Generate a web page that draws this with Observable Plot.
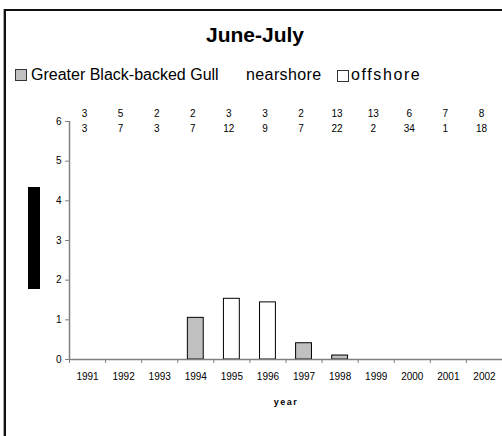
<!DOCTYPE html>
<html>
<head>
<meta charset="utf-8">
<script src="https://cdn.jsdelivr.net/npm/d3@7"></script>
<script src="https://cdn.jsdelivr.net/npm/@observablehq/plot@0.6"></script>
<style>
  html, body { margin: 0; padding: 0; background: #fff; overflow: hidden; }
  body { width: 502px; height: 436px; position: relative; font-family: "Liberation Sans", Arial, sans-serif; }
  #hline { position: absolute; left: 4px; top: 9px; width: 498px; height: 2px; background: #111; }
  #vline { position: absolute; left: 4px; top: 9px; width: 2px; height: 427px; background: #111; box-shadow: -1px 0 0 #aaa; }
  #chart { position: absolute; left: 0; top: 0; }
  .abs { position: absolute; white-space: pre; color: #000; }
  #title { left: 0; width: 510px; top: 23px; text-align: center; font-size: 21px; font-weight: bold; }
  .leg { font-size: 16px; top: 66px; }
  .sw { position: absolute; width: 10px; height: 10px; border: 1px solid #333; }
  #ylab { position: absolute; left: 28px; top: 187px; width: 12px; height: 102px; background: #000; }
</style>
</head>
<body>
<div id="hline"></div>
<div id="vline"></div>
<div id="chart"></div>
<div id="title" class="abs">June-July</div>
<div class="sw" style="left:15px; top:69px; background:#c0c0c0;"></div>
<div class="abs leg" style="left:31px;">Greater Black-backed Gull</div>
<div class="abs leg" style="left:246px; letter-spacing:0.4px;">nearshore</div>
<div class="sw" style="left:337px; top:70px; background:#fff;"></div>
<div class="abs leg" style="left:351px; letter-spacing:1.6px;">offshore</div>
<div id="ylab"></div>
<script>
const years = [1991, 1992, 1993, 1994, 1995, 1996, 1997, 1998, 1999, 2000, 2001, 2002];
const nearshore = [0, 0, 0, 1.05, 0, 0, 0.41, 0.1, 0, 0, 0, 0];
const offshore  = [0, 0, 0, 0, 1.53, 1.44, 0, 0, 0, 0, 0, 0];
const countsTop    = [3, 5, 2, 2, 3, 3, 2, 13, 13, 6, 7, 8];
const countsBottom = [3, 7, 3, 7, 12, 9, 7, 22, 2, 34, 1, 18];
const yTicks = [0, 1, 2, 3, 4, 5, 6];
const xTitle = "year";

const barHalf = 0.22; // half of bar width, in category units
const near = years.map((year, i) => ({year, value: nearshore[i]})).filter(d => d.value > 0);
const off = years.map((year, i) => ({year, value: offshore[i]})).filter(d => d.value > 0);
const rows = years.map((year, i) => ({year, top: String(countsTop[i]), bottom: String(countsBottom[i])}));
const xMin = years[0] - 0.5, xMax = years[years.length - 1] + 0.5;
const edges = years.map(y => y - 0.5);

const chart = Plot.plot({
  width: 502,
  height: 436,
  marginLeft: 69,
  marginRight: 0,
  marginTop: 121,
  marginBottom: 77,
  x: {domain: [xMin, xMax], axis: null},
  y: {domain: [0, 6], axis: null},
  style: {fontFamily: "'Liberation Sans', Arial, sans-serif", fontSize: "10px", background: "transparent", color: "#000"},
  marks: [
    Plot.rectY(near, {x1: d => d.year - barHalf, x2: d => d.year + barHalf, y: "value", fill: "#c0c0c0", stroke: "#000", strokeWidth: 1}),
    Plot.rectY(off, {x1: d => d.year - barHalf, x2: d => d.year + barHalf, y: "value", fill: "#fff", stroke: "#000", strokeWidth: 1}),
    Plot.ruleY([0], {stroke: "#808080", strokeWidth: 1.5}),
    Plot.ruleX([xMin], {y1: 0, y2: 6, stroke: "#808080", strokeWidth: 1.5}),
    Plot.axisY({ticks: yTicks, tickFormat: "d", tickSize: 4, tickPadding: 4, label: null, stroke: "#808080", fill: "#000"}),
    Plot.axisX({ticks: edges, tickSize: 4, tickFormat: () => "", label: null, stroke: "#808080"}),
    Plot.axisX({ticks: years, tickSize: 0, tickPadding: 13, tickFormat: "d", label: null, fill: "#000"}),
    Plot.text(rows, {x: "year", text: "top", frameAnchor: "top", dy: -12, dx: -3, fill: "#000"}),
    Plot.text(rows, {x: "year", text: "bottom", frameAnchor: "top", dy: 3, dx: -3, fill: "#000"}),
    Plot.text([xTitle], {frameAnchor: "bottom", dy: 45, text: d => d, fontWeight: "bold", fontSize: 9, fill: "#000"})
  ]
});
d3.select(chart).selectAll("text").filter(function() { return this.textContent === xTitle; })
  .style("letter-spacing", "1.5px");
document.getElementById("chart").appendChild(chart);
</script>
</body>
</html>
